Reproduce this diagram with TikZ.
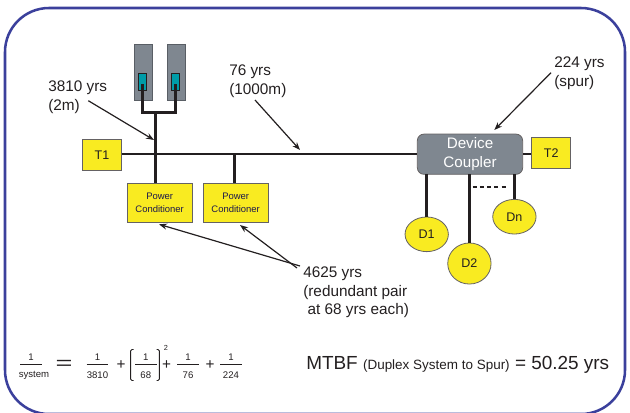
\documentclass[tikz,border=0pt]{standalone}
\usepackage{fontspec}
\setmainfont{Liberation Sans}
\usepackage{xcolor}
\usetikzlibrary{shapes.geometric,positioning,calc,arrows.meta}
\definecolor{framec}{HTML}{3B409C}
\definecolor{boxy}{HTML}{F9EB21}
\definecolor{slate}{HTML}{7F8790}
\definecolor{tealc}{HTML}{009CA8}
\definecolor{inkc}{HTML}{231F20}
\tikzset{
  yelbox/.style={draw=inkc!70,line width=0.6pt,fill=boxy,inner sep=0pt,text=inkc,font=\fontsize{9.4}{11}\selectfont},
  pcbox/.style={yelbox,minimum width=48.9pt,minimum height=29pt,align=center,text=inkc!80!blue,font=\fontsize{7.1}{9.2}\selectfont},
  devc/.style={yelbox,ellipse,minimum width=32.5pt},
  tube/.style={draw=slate!70!black,line width=0.5pt,fill=slate,inner sep=0pt,minimum width=13.5pt,minimum height=42.5pt},
  sock/.style={draw=inkc,line width=0.5pt,fill=tealc,inner sep=0pt,minimum width=5.8pt,minimum height=12.5pt},
  lbl/.style={inner sep=0pt,align=left,anchor=north west,text=inkc,font=\fontsize{11.5}{14}\selectfont},
  fnum/.style={inner sep=0pt,text=inkc,font=\fontsize{7.2}{9}\selectfont},
  plus/.style={inner sep=0pt,text=inkc,font=\fontsize{11.5}{12}\selectfont},
  bus/.style={draw=inkc,line width=1.1pt},
  spur/.style={draw=inkc,line width=2.1pt},
  callout/.style={draw=inkc,line width=0.9pt,-{Stealth[length=6pt,width=4.5pt]}}
}
\begin{document}
\begin{tikzpicture}[x=0.75pt,y=-0.75pt]
    \useasboundingbox (0,0) rectangle (630,412);
    \draw[framec,line width=1.9pt,rounded corners=33pt] (5,8) rectangle (625,414);

    \node[tube] (tubea) at (143,72.3) {};
    \node[tube] (tubeb) at (176.3,72.3) {};
    \node[sock] (socka) at (142.2,81.7) {};
    \node[sock] (sockb) at (175.3,81.7) {};
    \node[yelbox,minimum width=29pt,minimum height=23.2pt] (t1) at (102,154.8) {T1};
    \node[pcbox] (pca) at (159.7,202.7) {Power\\Conditioner};
    \node[pcbox] (pcb) at (235.7,202.7) {Power\\Conditioner};
    \node[draw=inkc!70,line width=0.6pt,fill=slate,rounded corners=5pt,inner sep=0pt,minimum width=79pt,minimum height=30.2pt,align=center,text=white,font=\fontsize{11.4}{14}\selectfont] (coupler) at (470,154.2) {Device\\Coupler};
    \node[yelbox,minimum width=29.2pt,minimum height=23.2pt] (t2) at (551.2,153.2) {T2};
    \node[devc,minimum height=26pt] (da) at (426.7,234.3) {D1};
    \node[devc,minimum height=30.8pt] (db) at (469.4,263.5) {D2};
    \node[devc,minimum height=26pt] (dn) at (514.4,216.7) {Dn};

    \coordinate (jn) at (155.5,112.7);
    \coordinate (tapa) at (155.5,154);
    \coordinate (tapb) at (234.5,154);
    \coordinate (dropa) at (426.7,174);
    \coordinate (dropb) at (469.4,174);
    \coordinate (dropn) at (514.4,174);
    \draw[spur] ([yshift=-2pt]socka.center) -- (socka |- jn) -- (sockb |- jn) -- ([yshift=-2pt]sockb.center);
    \draw[spur] (jn) -- (jn |- pca.north);
    \draw[bus] (t1.east |- tapa) -- (coupler.west |- tapa);
    \draw[spur] (tapb) -- (tapb |- pcb.north);
    \draw[bus] (coupler.east |- tapa) -- (t2.west |- tapa);
    \draw[spur] (dropa) -- (da.north);
    \draw[spur] (dropb) -- (db.north);
    \draw[spur] (dropn) -- (dn.north);
    \draw[inkc,line width=1.3pt,dash pattern=on 3pt off 2.4pt] (472.7,187) -- (508.3,187);

    \node[lbl] (lwire) at (48,80.5) {3810 yrs\\(2m)};
    \node[lbl] (ltrunk) at (229,64.5) {76 yrs\\(1000m)};
    \node[lbl] (lspur) at (554,57) {224 yrs\\(spur)};
    \node[lbl] (lpair) at (303,266.5) {4625 yrs\\(redundant pair\\ \ at 68 yrs each)};

    \coordinate (wirea) at (88.3,100.7);
    \coordinate (wireb) at (154,140);
    \coordinate (trunka) at (255,100);
    \coordinate (trunkb) at (300,150);
    \coordinate (spura) at (551,72.7);
    \coordinate (spurb) at (494.3,130);
    \coordinate (paira) at (300,266);
    \coordinate (pairb) at (297,268);
    \coordinate (pcatip) at (159,224.3);
    \coordinate (pcbtip) at (240,225);
    \draw[callout] (wirea) -- (wireb);
    \draw[callout] (trunka) -- (trunkb);
    \draw[callout] (spura) -- (spurb);
    \draw[callout] (paira) -- (pcatip);
    \draw[callout] (pairb) -- (pcbtip);

    \foreach \nm/\cx/\dx/\dn in {s/31/34/system,a/97.5/97.5/3810,b/145.8/145.8/68,c/188/188/76,d/231/231/224} {
        \node[fnum] (num\nm) at (\cx,357) {1};
        \node[fnum] (den\nm) at (\dx,375.5) {\dn};
        \draw[inkc,line width=0.7pt] ({\cx-10.8},364.3) -- ({\cx+10.8},364.3);
    }
    \node[inner sep=0pt,text=inkc,font=\fontsize{14}{14}\selectfont] (eqs) at (64,365) {\scalebox{1.55}[1]{=}};
    \node[plus] (pla) at (121,365) {+};
    \node[plus] (plb) at (166.7,365) {+};
    \node[plus] (plc) at (210,365) {+};
    \node[inner sep=0pt,text=inkc,font=\fontsize{5.5}{6}\selectfont] (sqr) at (166,348) {2};
    \draw[inkc,line width=0.7pt,rounded corners=1pt] (133.5,349.5) -- (130.7,349.5) -- (130.7,380.5) -- (133.5,380.5);
    \draw[inkc,line width=0.7pt,rounded corners=1pt] (156.5,349.5) -- (159.3,349.5) -- (159.3,380.5) -- (156.5,380.5);

    \node[inner sep=0pt,anchor=base west,text=inkc,font=\fontsize{14.2}{16}\selectfont] (mtbf) at (306,369) {MTBF {\fontsize{10.1}{12}\selectfont (Duplex System to Spur)} = 50.25 yrs};
\end{tikzpicture}
\end{document}
